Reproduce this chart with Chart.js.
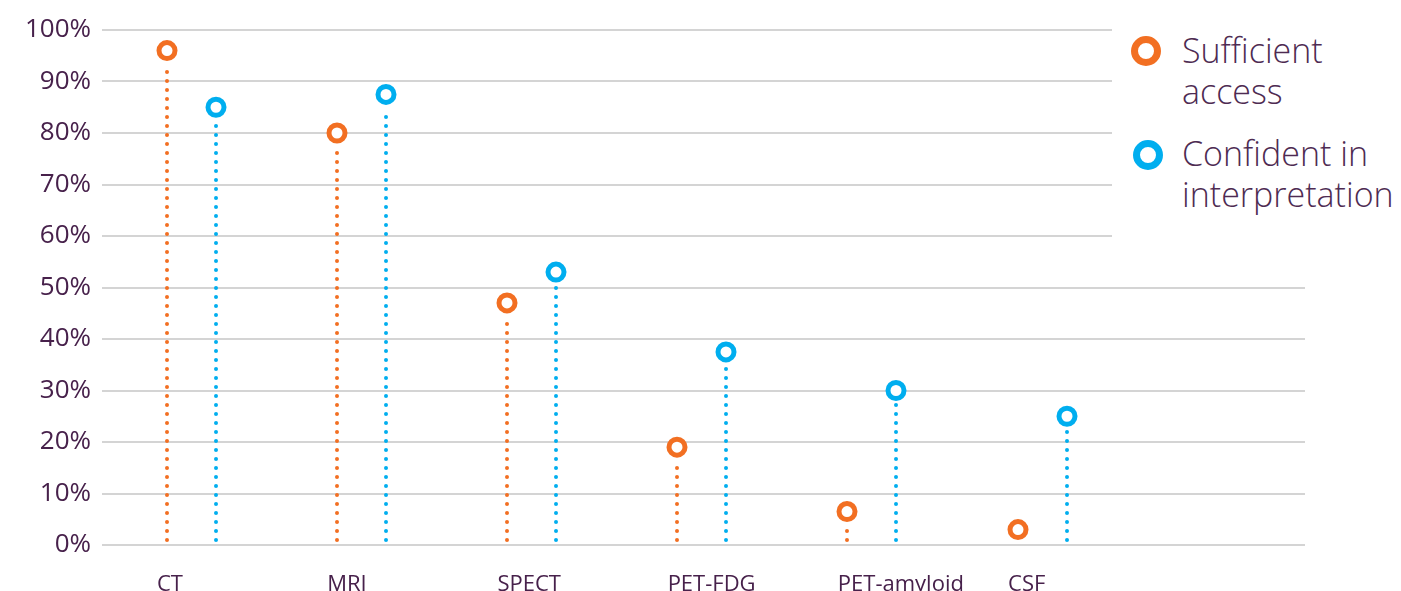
<!DOCTYPE html>
<html>
<head>
<meta charset="utf-8">
<script src="https://cdn.jsdelivr.net/npm/chart.js@4.4.1/dist/chart.umd.min.js"></script>
<style>
  html, body { margin: 0; padding: 0; background: #fff; }
  #wrap { position: relative; width: 1401px; height: 591px; }
  #legend { position: absolute; left: 1112px; top: 0; width: 289px; height: 255px; background: #fff;
            font-family: "Open Sans"; font-weight: 300; font-size: 34px; line-height: 41px; color: #4e2b52; }
  .item { position: absolute; left: 70px; white-space: nowrap; }
  .dot { position: absolute; width: 16px; height: 16px; border: 7px solid; border-radius: 50%; }
</style>
</head>
<body>
<div id="wrap">
  <canvas id="lollipopChart" width="1401" height="591"></canvas>
  <div id="legend">
    <span class="dot" style="left:19px;top:36px;border-color:#f26f22"></span>
    <div class="item" style="top:30px">Sufficient<br>access</div>
    <span class="dot" style="left:21px;top:140px;border-color:#00aeef"></span>
    <div class="item" style="top:133px">Confident in<br>interpretation</div>
  </div>
</div>
<script>
const categories = ["CT", "MRI", "SPECT", "PET-FDG", "PET-amyloid", "CSF"];
const sufficientAccess = [96, 80, 47, 19, 6.5, 3];
const confidentInterpretation = [85, 87.5, 53, 37.5, 30, 25];
const seriesNames = ["Sufficient access", "Confident in interpretation"];
const yTicks = [0, 10, 20, 30, 40, 50, 60, 70, 80, 90, 100];

const orange = "#f26f22";
const blue = "#00aeef";
const textColor = "#47214b";

const toPoints = arr => arr.map((v, i) => ({ x: i, y: v }));

// draws each bar as a dotted stem with a hollow circle on top
const lollipop = {
    id: "lollipop",
    afterDatasetsDraw(chart) {
        const ctx = chart.ctx;
        chart.data.datasets.forEach((ds, i) => {
            chart.getDatasetMeta(i).data.forEach(bar => {
                const x = Math.round(bar.x);
                const y = bar.y;
                const base = bar.base;
                ctx.save();
                ctx.strokeStyle = ds.borderColor;
                ctx.lineWidth = 4;
                ctx.lineCap = "round";
                ctx.setLineDash([0, 9]);
                if (base - 4 > y + 14) {
                    ctx.beginPath();
                    ctx.moveTo(x, base - 4);
                    ctx.lineTo(x, y + 14);
                    ctx.stroke();
                }
                ctx.setLineDash([]);
                ctx.beginPath();
                ctx.arc(x, y, 8, 0, Math.PI * 2);
                ctx.fillStyle = "#fff";
                ctx.fill();
                ctx.lineWidth = 5;
                ctx.stroke();
                ctx.restore();
            });
        });
    }
};

new Chart(document.getElementById("lollipopChart"), {
    type: "bar",
    data: {
        datasets: [{
            label: seriesNames[0],
            data: toPoints(sufficientAccess),
            borderColor: orange,
            backgroundColor: "rgba(0,0,0,0)",
            borderWidth: 0
        }, {
            label: seriesNames[1],
            data: toPoints(confidentInterpretation),
            borderColor: blue,
            backgroundColor: "rgba(0,0,0,0)",
            borderWidth: 0
        }]
    },
    options: {
        responsive: false,
        animation: false,
        categoryPercentage: 0.576,
        barPercentage: 0.2,
        layout: { padding: { top: 30, right: 96, left: 0, bottom: 0 } },
        plugins: {
            legend: { display: false },
            tooltip: { enabled: false }
        },
        scales: {
            x: {
                type: "linear",
                offset: false,
                min: -0.523,
                max: 6.545,
                grid: { display: false },
                border: { display: false },
                afterBuildTicks(scale) {
                    scale.ticks = categories.map((c, i) => ({ value: i }));
                },
                ticks: {
                    autoSkip: false,
                    maxRotation: 0,
                    align: "start",
                    labelOffset: -34,
                    padding: 19,
                    color: textColor,
                    font: { family: "Open Sans", size: 22 },
                    callback: v => categories[v]
                },
                afterFit(scale) { scale.height = 46; }
            },
            y: {
                min: 0,
                max: 100,
                grid: { color: "#d4d4d4", lineWidth: 2, drawTicks: false },
                border: { display: false },
                afterBuildTicks(scale) {
                    scale.ticks = yTicks.map(v => ({ value: v }));
                },
                ticks: {
                    padding: 11,
                    color: textColor,
                    font: { family: "Open Sans", size: 26 },
                    callback: v => v + "%"
                },
                afterFit(scale) { scale.width = 102; }
            }
        }
    },
    plugins: [lollipop]
});
</script>
</body>
</html>
